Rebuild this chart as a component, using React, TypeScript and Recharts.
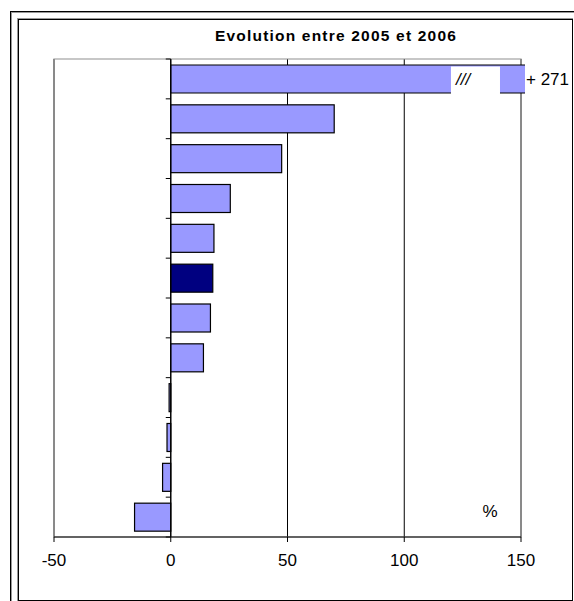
import React from "react"
import {
  BarChart,
  Bar,
  XAxis,
  YAxis,
  CartesianGrid,
  ReferenceArea,
  ReferenceLine,
  Cell,
} from "recharts"

// 12 rows, top to bottom (labels are not printed on the original)
const categories = ["r1", "r2", "r3", "r4", "r5", "r6", "r7", "r8", "r9", "r10", "r11", "r12"]
const evolution = [271, 70, 47.5, 25.5, 18.5, 18, 17, 14, -0.7, -1.6, -3.5, -15.5]
const highlighted = ["r6"]
const xTicks = [-50, 0, 50, 100, 150]

const X_MIN = -50
const X_MAX = 150
// the axis break drawn on the bar that goes past the scale
const BREAK_FROM = 120
const BREAK_TO = 141

const FONT = '"Liberation Sans", Arial, sans-serif'

const data = categories.map((name, i) => ({
  name,
  actual: evolution[i],
  shown: Math.min(evolution[i], X_MAX),
}))

function BarShape(props: any) {
  let { x, y, width, height, fill, payload } = props
  if (width < 0) {
    x = x + width
    width = -width
  }
  if (payload.actual <= X_MAX) {
    return <rect x={x} y={y} width={width} height={height} fill={fill} stroke="#000" strokeWidth={1.2} />
  }
  // broken bar: width covers 0..X_MAX
  const g1 = x + (width * BREAK_FROM) / X_MAX
  const g2 = x + (width * BREAK_TO) / X_MAX
  return (
    <g>
      <rect x={x} y={y} width={width + 4} height={height} fill={fill} />
      <line x1={x} y1={y} x2={x + width + 4} y2={y} stroke="#000" strokeWidth={1.2} />
      <line x1={x} y1={y + height} x2={x + width + 4} y2={y + height} stroke="#000" strokeWidth={1.2} />
      <line x1={x} y1={y} x2={x} y2={y + height} stroke="#000" strokeWidth={1.2} />
      <rect x={g1} y={y + 1.5} width={g2 - g1} height={height + 1} fill="#fff" />
      <text
        x={g1 + 5}
        y={y + height / 2 + 6}
        fontFamily={FONT}
        fontSize={17}
        fontStyle="italic"
        fill="#000"
      >
        ///
      </text>
      <text x={x + width + 5} y={y + height / 2 + 6} fontFamily={FONT} fontSize={17} fill="#000">
        {"+ " + payload.actual}
      </text>
    </g>
  )
}

function ZeroAxis(props: any) {
  const { x1, y1, y2 } = props
  const step = (y2 - y1) / categories.length
  const marks = []
  for (let i = 0; i <= categories.length; i++) {
    const yy = y1 + i * step
    marks.push(<line key={i} x1={x1 - 5} y1={yy} x2={x1} y2={yy} stroke="#000" strokeWidth={1} />)
  }
  return (
    <g>
      <line x1={x1} y1={y1} x2={x1} y2={y2} stroke="#000" strokeWidth={1.2} />
      {marks}
    </g>
  )
}

export default function App() {
  return (
    <div style={{ position: "absolute", left: 0, top: 0, width: 574, height: 601, background: "#fff", overflow: "hidden" }}>
      {/* outer frame */}
      <div style={{ position: "absolute", left: 10, top: 11, width: 700, height: 700, borderLeft: "1px solid #000", borderTop: "1px solid #000" }} />
      <div style={{ position: "absolute", left: 11, top: 12, width: 700, height: 700, borderLeft: "1px solid #999", borderTop: "1px solid #999" }} />
      {/* inner frame */}
      <div style={{ position: "absolute", left: 17, top: 18, width: 556, height: 584, border: "1px solid #999", boxSizing: "border-box" }} />
      <div style={{ position: "absolute", left: 18, top: 19, width: 555, height: 582, border: "1.5px solid #000", boxSizing: "border-box" }} />

      <div
        style={{
          position: "absolute",
          left: 136,
          top: 26,
          width: 400,
          textAlign: "center",
          fontFamily: FONT,
          fontWeight: "bold",
          fontSize: 15.5,
          letterSpacing: 1.2,
          lineHeight: "20px",
        }}
      >
        Evolution entre 2005 et 2006
      </div>

      <div style={{ position: "absolute", left: 0, top: 0 }}>
        <BarChart
          width={574}
          height={601}
          data={data}
          layout="vertical"
          margin={{ top: 59, right: 53, bottom: 34, left: 54 }}
          barSize={28}
        >
          <CartesianGrid horizontal={false} stroke="#000" strokeWidth={1} />
          <XAxis
            type="number"
            domain={[X_MIN, X_MAX]}
            ticks={xTicks}
            height={30}
            axisLine={{ stroke: "#000", strokeWidth: 1.2 }}
            tickLine={{ stroke: "#000" }}
            tickSize={5}
            tickMargin={12}
            tick={{ fill: "#000", fontSize: 17, fontFamily: FONT }}
          />
          <YAxis type="category" dataKey="name" hide width={0} />
          <ReferenceArea x1={X_MIN} x2={X_MAX} fill="none" stroke="#909090" strokeWidth={1.2} />
          <Bar dataKey="shown" isAnimationActive={false} shape={BarShape}>
            {data.map((d) => (
              <Cell key={d.name} fill={highlighted.includes(d.name) ? "#000080" : "#9999ff"} />
            ))}
          </Bar>
          <ReferenceLine x={0} shape={ZeroAxis} />
        </BarChart>
      </div>

      <div
        style={{
          position: "absolute",
          left: 470,
          top: 502,
          width: 40,
          textAlign: "center",
          fontFamily: FONT,
          fontSize: 17,
          lineHeight: "20px",
        }}
      >
        %
      </div>
    </div>
  )
}
